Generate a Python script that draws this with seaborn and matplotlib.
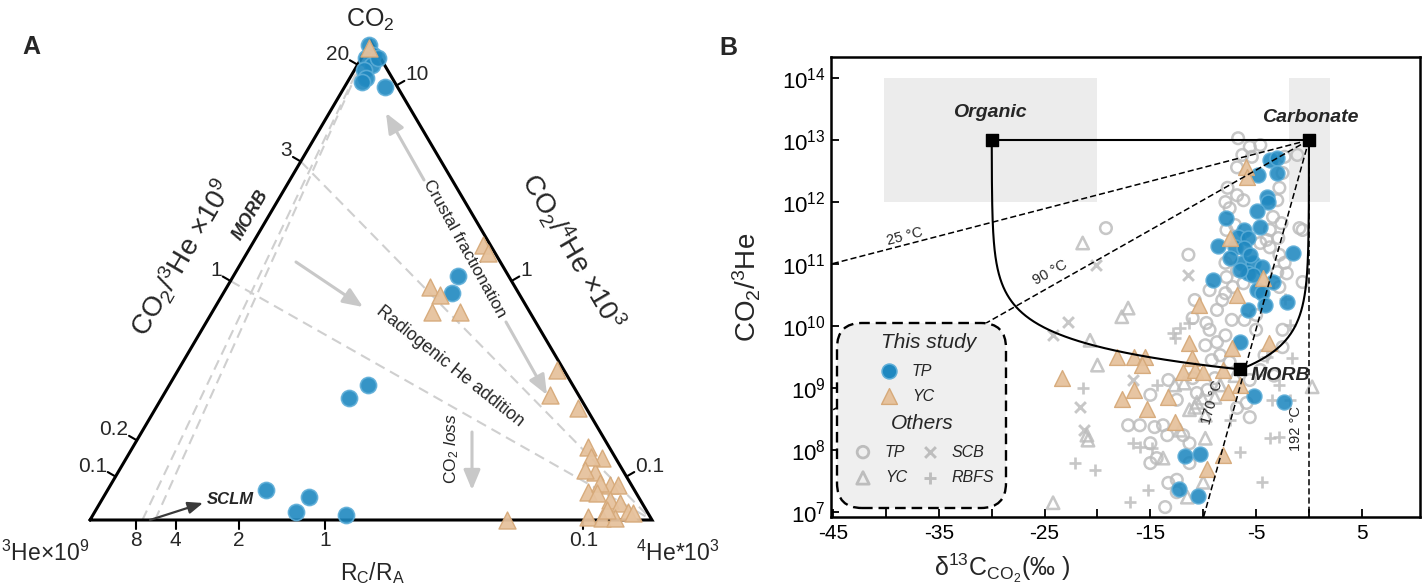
import numpy as np
import matplotlib
matplotlib.use("Agg")
import matplotlib.pyplot as plt
from matplotlib.patches import Rectangle, FancyBboxPatch
from matplotlib.ticker import NullLocator
import seaborn as sns

# ---------------- Painel A: ternário CO2 - 3He - 4He ----------------
# frações de CO2 e de 4He(x10^3) em cada amostra (3He x10^9 = resto)
a_tp_co2 = [0.994, 0.973, 0.967, 0.952, 0.941, 0.925, 0.916, 0.967, 0.906,
            0.510, 0.475, 0.282, 0.255, 0.063, 0.048, 0.017, 0.010]
a_tp_he4 = [0.000, 0.017, 0.008, 0.026, 0.017, 0.029, 0.026, 0.029, 0.072,
            0.400, 0.407, 0.354, 0.333, 0.282, 0.366, 0.358, 0.451]
a_yc_co2 = [0.987, 0.575, 0.559, 0.487, 0.471, 0.435, 0.435, 0.314, 0.262,
            0.234, 0.153, 0.130, 0.100, 0.073, 0.073, 0.059, 0.077, 0.042,
            0.036, 0.017, 0.006, 0.004, 0.004, 0.015, 0.021, 0.000, 0.056,
            0.132, 0.105]
a_yc_he4 = [0.003, 0.412, 0.429, 0.362, 0.387, 0.391, 0.441, 0.674, 0.688,
            0.751, 0.810, 0.846, 0.849, 0.889, 0.903, 0.857, 0.869, 0.904,
            0.925, 0.949, 0.883, 0.909, 0.932, 0.959, 0.909, 0.742, 0.874,
            0.825, 0.828]

left_ticks = [20, 3, 1, 0.2, 0.1]       # CO2/3He x10^9
right_ticks = [10, 1, 0.1]              # CO2/4He x10^3
bottom_ticks = [8, 4, 2, 1, 0.1]        # Rc/Ra
RA_X1E6 = 1.39                          # ar atmosférico, 3He/4He x10^6
radiogenic_start = [3, 1]               # linhas de adição de He radiogênico
morb_rcra = [7, 5.5]                    # linhas MORB

# ---------------- Painel B: d13C vs CO2/3He ----------------
tp_d13c = [-3.7, -3.0, -3.0, -4.8, -4.0, -3.9, -4.9, -7.8, -4.6, -6.1, -6.7,
           -5.8, -8.6, -7.0, -6.1, -1.5, -6.3, -5.3, -4.4, -5.8, -5.3, -9.1,
           -3.4, -4.9, -4.4, -2.1, -4.2, -5.8, -6.5, -5.2, -2.4, -11.7, -10.3,
           -12.3, -10.5, -7.5, -5.6, -6.5]
tp_log = [12.68, 12.71, 12.47, 12.44, 12.08, 12.00, 11.85, 11.74, 11.60, 11.55,
          11.44, 11.42, 11.29, 11.27, 11.26, 11.18, 11.02, 11.02, 10.95, 10.85,
          10.82, 10.74, 10.71, 10.58, 10.53, 10.39, 10.34, 10.26, 9.74, 8.87,
          8.77, 7.90, 7.94, 7.37, 7.26, 11.10, 11.15, 10.90]

yc_d13c = [-6.0, -5.9, -7.5, -4.3, -6.8, -10.4, -11.3, -7.3, -3.8, -18.2, -16.5,
           -15.5, -15.8, -11.1, -23.4, -11.9, -10.8, -10.0, -8.1, -16.5, -17.7,
           -13.3, -7.7, -6.5, -15.3, -12.7, -8.1, -9.6]
yc_log = [12.56, 12.40, 11.42, 10.77, 10.50, 10.34, 9.73, 9.65, 9.73, 9.50,
          9.50, 9.50, 9.37, 9.48, 9.16, 9.26, 9.29, 9.26, 9.29, 8.97, 8.82, 8.85,
          8.94, 9.05, 8.66, 8.45, 7.92, 7.69]

oth_tp_d13c = [-6.7, -5.6, -4.6, -6.3, -5.4, -2.3, -1.1, -6.8, -2.5, -7.7, -6.8,
               -6.2, -2.8, -7.9, -7.5, -3.0, -3.4, -2.6, -3.7, -0.9, -0.6, -7.0,
               -7.8, -11.4, -4.0, -2.9, -4.6, -3.7, -7.3, -7.9, -2.8, -2.3, -6.8,
               -7.8, -3.0, -2.1, -0.6, -7.2, -7.9, -8.7, -6.2, -2.8, -19.2, -11.0,
               -9.7, -8.7, -7.3, -2.5, -2.5, -13.3, -11.0, -15.0, -10.6, -12.5,
               -17.1, -16.0, -14.6, -13.8, -13.4, -11.9, -15.0, -11.3, -14.4,
               -15.0, -12.5, -13.3, -13.6, -5.9, -5.6, -6.8, -12.5, -11.3, -9.4,
               -8.4, -9.8, -7.9, -9.2, -7.5, -8.9, -9.6, -5.0, -4.2, -4.6, -3.3,
               -5.6, -6.1, -8.2, -5.0, -9.4, -10.8]
oth_tp_log = [13.03, 12.89, 12.92, 12.76, 12.73, 12.73, 12.76, 12.56, 12.47,
              12.23, 12.11, 12.03, 12.23, 12.00, 11.90, 12.03, 11.76, 11.66,
              11.55, 11.58, 11.55, 11.63, 11.55, 11.15, 11.39, 11.42, 11.34,
              11.27, 11.11, 11.02, 11.15, 11.02, 10.90, 10.79, 10.87, 10.85,
              10.71, 10.63, 10.53, 10.26, 10.69, 10.63, 11.58, 10.13, 10.05,
              9.74, 10.10, 9.94, 9.66, 9.13, 9.16, 8.89, 8.92, 8.81, 8.40, 8.40,
              8.37, 8.40, 8.24, 8.24, 8.11, 8.11, 7.87, 7.79, 7.52, 7.47, 7.08,
              8.76, 8.53, 8.68, 7.32, 7.79, 9.94, 9.53, 9.69, 9.85, 9.45, 9.42,
              9.16, 8.97, 9.94, 9.53, 9.29, 9.20, 9.13, 10.10, 10.42, 10.18,
              10.58, 10.42]

oth_yc_d13c = [-17.7, -17.1, -21.4, -20.7, -20.0, -21.0, -24.2, -10.1, -10.8,
               -8.9, -9.8, -13.8, -10.0, -11.5, -9.8, -12.7, -11.8, -10.6, 0.3,
               -20.9, -8.4, -7.0, -11.3, -12.2]
oth_yc_log = [10.15, 10.29, 11.34, 9.77, 9.37, 8.24, 7.15, 8.84, 8.69, 8.85,
              8.56, 7.87, 7.48, 7.24, 8.19, 9.05, 9.08, 8.77, 9.02, 8.16, 9.05,
              9.20, 8.65, 8.32]

oth_scb_d13c = [-20.1, -22.8, -24.2, -11.4, -16.6, -21.7, -21.3]
oth_scb_log = [10.98, 10.06, 9.85, 10.82, 9.13, 8.69, 8.32]

oth_rbfs_d13c = [-12.2, -11.3, -12.7, -21.4, -14.4, -16.0, -14.8, -22.1, -20.2,
                 -15.2, -16.9, -6.5, -4.4, -3.5, -3.7, -2.8, -2.8, -4.0, -1.8,
                 -1.6, -16.6, -12.9, -2.3, -7.5, -1.8]
oth_rbfs_log = [9.97, 10.05, 9.81, 9.00, 9.05, 8.05, 8.03, 7.79, 7.68, 7.35,
                7.16, 7.97, 7.48, 8.81, 8.19, 8.21, 9.05, 9.50, 10.02, 9.48,
                8.11, 9.89, 10.44, 8.48, 8.81]

# membros finais (d13C, CO2/3He)
end_names = ["Organic", "Carbonate", "MORB"]
end_d13c = [-30.0, 0.0, -6.5]
end_ratio = [1e13, 1e13, 2e9]

# linhas de fracionamento a partir do carbonato
frac_labels = ["25 °C", "90 °C", "170 °C", "192 °C"]
frac_end_d13c = [-45.2, -45.2, -10.0, 0.0]
frac_end_log = [11.0, 8.63, 6.9, 6.0]

BLUE, BLUE_EDGE = "#1f88c0", "#5eaed8"
TAN, TAN_EDGE = "#e6c29d", "#d6a979"
GRAY = "#bdbdbd"
ARROW = "#c8c8c8"
H = np.sqrt(3) / 2

sns.set_style("ticks")
plt.rcParams["font.family"] = ["Liberation Sans", "DejaVu Sans"]
plt.rcParams["mathtext.fontset"] = "custom"
plt.rcParams["mathtext.rm"] = "Liberation Sans"
plt.rcParams["mathtext.it"] = "Liberation Sans:italic"
plt.rcParams["mathtext.bf"] = "Liberation Sans:bold"
plt.rcParams["axes.unicode_minus"] = False


def tern_xy(co2, he4):
    co2 = np.asarray(co2, dtype=float)
    he4 = np.asarray(he4, dtype=float)
    return he4 + 0.5 * co2, H * co2


def pa(px, py):
    # posição em pixels da figura -> coordenadas do painel A
    return (px - 90) / 562, (520 - py) / 552


def edge_tick(ax, co2, he4, normal, text, ha, va, off):
    x0, y0 = tern_xy(co2, he4)
    x1 = x0 + normal[0] * 9 / 562
    y1 = y0 + normal[1] * 9 / 552
    ax.plot([x0, x1], [y0, y1], color="black", lw=1.5, zorder=3)
    ax.text(x1 + off[0] / 562, y1 + off[1] / 552, text, ha=ha, va=va,
            fontsize=15)


def painel_a(fig):
    ax = fig.add_axes([0, 0, 700 / 1422, 1])
    ax.set_xlim(-90 / 562, 610 / 562)
    ax.set_ylim(-67 / 552, 520 / 552)
    ax.axis("off")

    # triângulo
    tx, ty = tern_xy([0, 0, 1, 0], [0, 1, 0, 0])
    ax.plot(tx, ty, color="black", lw=2.2, zorder=3, solid_joinstyle="miter")

    # linhas tracejadas de mistura
    for v in radiogenic_start:
        fc = v / (1 + v)
        x, y = tern_xy([fc, 0], [0, 1])
        ax.plot(x, y, ls=(0, (5, 3)), color="#cfcfcf", lw=1.5, zorder=1)
    for r in morb_rcra:
        f4 = 1 / (1 + RA_X1E6 * r)
        x, y = tern_xy([0, 1], [f4, 0])
        ax.plot(x, y, ls=(0, (5, 3)), color="#cfcfcf", lw=1.5, zorder=1)

    # marcas dos eixos
    for v in left_ticks:
        fc = v / (1 + v)
        edge_tick(ax, fc, 0, (-0.866, 0.5), f"{v:g}", "right", "center", (-1, 6))
    for v in right_ticks:
        fc = v / (1 + v)
        edge_tick(ax, fc, 1 - fc, (0.866, 0.5), f"{v:g}", "left", "center", (1, 6))
    for r in bottom_ticks:
        f4 = 1 / (1 + RA_X1E6 * r)
        edge_tick(ax, 0, f4, (0, -1), f"{r:g}", "center", "top", (0, -2))

    # dados
    x, y = tern_xy(a_tp_co2, a_tp_he4)
    sns.scatterplot(x=x, y=y, ax=ax, marker="o", s=135, color=BLUE,
                    edgecolor=BLUE_EDGE, linewidth=1.2, alpha=0.9, zorder=5)
    x, y = tern_xy(a_yc_co2, a_yc_he4)
    sns.scatterplot(x=x, y=y, ax=ax, marker="^", s=150, color=TAN,
                    edgecolor=TAN_EDGE, linewidth=1.0, alpha=0.95, zorder=6)

    # setas
    big = dict(arrowstyle="-|>,head_length=0.6,head_width=0.25", color=ARROW,
               lw=2.2, mutation_scale=20, shrinkA=0, shrinkB=0)
    ax.annotate("", xy=pa(386, 113), xytext=pa(424, 180), arrowprops=big)
    ax.annotate("", xy=pa(547, 395), xytext=pa(506, 322), arrowprops=big)
    ax.annotate("", xy=pa(363, 307), xytext=pa(296, 262), arrowprops=big)
    ax.annotate("", xy=pa(472, 490), xytext=pa(472, 432), arrowprops=big)
    ax.annotate("", xy=pa(203, 503), xytext=pa(150, 520),
                arrowprops=dict(arrowstyle="-|>,head_length=0.5,head_width=0.2",
                                color="#3a3a3a", lw=1.6, mutation_scale=18,
                                shrinkA=0, shrinkB=0))

    # textos
    ax.text(*pa(31, 47), "A", fontsize=18, fontweight="bold", ha="center", va="center")
    ax.text(*pa(370, 20), "CO$_2$", fontsize=18, ha="center", va="center")
    ax.text(*pa(45, 553), "$^3$He×10$^9$", fontsize=16.5, ha="center", va="center")
    ax.text(*pa(678, 553), "$^4$He*10$^3$", fontsize=16.5, ha="center", va="center")
    ax.text(*pa(372, 573), "R$_\\mathrm{C}$/R$_\\mathrm{A}$", fontsize=16.5,
            ha="center", va="center")
    ax.text(*pa(182, 258), "CO$_2$/$^3$He ×10$^9$", fontsize=20, rotation=59.7,
            ha="center", va="center")
    ax.text(*pa(572, 252), "CO$_2$/$^4$He ×10$^3$", fontsize=20, rotation=-59.7,
            ha="center", va="center")
    ax.text(*pa(251, 215), "MORB", fontsize=13, fontweight="bold", style="italic",
            rotation=59.7, ha="center", va="center")
    ax.text(*pa(230, 500), "SCLM", fontsize=12, fontweight="bold", style="italic",
            ha="center", va="center")
    ax.text(*pa(465, 249), "Crustal fractionation", fontsize=12.5, rotation=-61,
            ha="center", va="center")
    ax.text(*pa(450, 366), "Radiogenic He addition", fontsize=12.8, rotation=-38.5,
            ha="center", va="center")
    ax.text(*pa(452, 449), "CO$_2$ $loss$", fontsize=12.5, rotation=90,
            ha="center", va="center")


def mixing(i, j):
    # curva de mistura binária entre dois membros finais
    r = np.logspace(np.log10(end_ratio[i]), np.log10(end_ratio[j]), 400)
    f = (end_ratio[i] - r) / (end_ratio[i] - end_ratio[j])
    d = ((1 - f) * end_ratio[i] * end_d13c[i] + f * end_ratio[j] * end_d13c[j]) / r
    return d, r


def painel_b(fig):
    ax = fig.add_axes([831 / 1422, 70 / 587, 589 / 1422, 460 / 587])
    ax.set_yscale("log")

    # caixas dos membros finais
    ax.add_patch(Rectangle((-40.2, 1e12), 20.2, 1e14 - 1e12, fc="#ececec",
                           ec="none", zorder=0))
    ax.add_patch(Rectangle((-1.9, 1e12), 3.9, 1e14 - 1e12, fc="#ececec",
                           ec="none", zorder=0))

    # outros estudos
    sns.scatterplot(x=oth_tp_d13c, y=10 ** np.array(oth_tp_log), ax=ax, marker="o",
                    s=70, color=GRAY, facecolor="none", edgecolor=GRAY,
                    linewidth=1.8, alpha=0.85, zorder=2)
    sns.scatterplot(x=oth_yc_d13c, y=10 ** np.array(oth_yc_log), ax=ax, marker="^",
                    s=80, color=GRAY, facecolor="none", edgecolor=GRAY,
                    linewidth=1.8, alpha=0.85, zorder=2)
    sns.scatterplot(x=oth_scb_d13c, y=10 ** np.array(oth_scb_log), ax=ax, marker="x",
                    s=60, color=GRAY, linewidth=2.1, alpha=0.85, zorder=2)
    sns.scatterplot(x=oth_rbfs_d13c, y=10 ** np.array(oth_rbfs_log), ax=ax,
                    marker="+", s=80, color=GRAY, linewidth=1.9, alpha=0.85,
                    zorder=2)

    # este estudo
    sns.scatterplot(x=tp_d13c, y=10 ** np.array(tp_log), ax=ax, marker="o", s=115,
                    color=BLUE, edgecolor=BLUE_EDGE, linewidth=1.1, alpha=0.88,
                    zorder=3)
    sns.scatterplot(x=yc_d13c, y=10 ** np.array(yc_log), ax=ax, marker="^", s=130,
                    color=TAN, edgecolor=TAN_EDGE, linewidth=1.0, alpha=0.95,
                    zorder=3.5)

    # linhas de fracionamento
    for xe, ye in zip(frac_end_d13c, frac_end_log):
        ax.plot([end_d13c[1], xe], [end_ratio[1], 10 ** ye], color="black",
                lw=1.1, ls=(0, (4, 2)), zorder=4)

    # mistura e membros finais
    ax.plot([end_d13c[0], end_d13c[1]], [end_ratio[0], end_ratio[1]],
            color="black", lw=1.5, zorder=4)
    for i in (0, 1):
        d, r = mixing(i, 2)
        ax.plot(d, r, color="black", lw=1.5, zorder=4)
    ax.scatter(end_d13c, end_ratio, marker="s", s=75, color="black", zorder=5)

    ax.text(-30.2, 10 ** 13.45, "Organic", fontsize=14, fontweight="bold",
            style="italic", ha="center", va="center")
    ax.text(0.1, 10 ** 13.37, "Carbonate", fontsize=14, fontweight="bold",
            style="italic", ha="center", va="center")
    ax.text(-5.5, 10 ** 9.2, "MORB", fontsize=14, fontweight="bold",
            style="italic", ha="left", va="center")
    ax.text(-38.2, 10 ** 11.45, frac_labels[0], fontsize=10.5, rotation=14.5,
            ha="center", va="center")
    ax.text(-24.5, 10 ** 10.87, frac_labels[1], fontsize=10.5, rotation=29,
            ha="center", va="center")
    ax.text(-9.1, 10 ** 8.77, frac_labels[2], fontsize=10.5, rotation=74,
            ha="center", va="center")
    ax.text(-1.2, 10 ** 8.35, frac_labels[3], fontsize=10.5, rotation=90,
            ha="center", va="center")

    # legenda manual
    box = FancyBboxPatch((8.37, 0.79), 1.69, 1.85,
                         boxstyle="round,pad=0,rounding_size=0.25",
                         transform=fig.dpi_scale_trans, fc="#efefef", ec="black",
                         lw=1.7, ls=(0, (4.5, 2.5)), zorder=6, clip_on=False)
    ax.add_patch(box)
    t = ax.transAxes
    ax.text(0.165, 0.380, "This study", transform=t, fontsize=15, style="italic",
            ha="center", va="center", zorder=7)
    ax.text(0.1545, 0.204, "Others", transform=t, fontsize=15, style="italic",
            ha="center", va="center", zorder=7)
    ax.scatter([0.0985], [0.317], transform=t, marker="o", s=115, color=BLUE,
               edgecolor=BLUE_EDGE, linewidth=1.1, zorder=7, clip_on=False)
    ax.scatter([0.0985], [0.263], transform=t, marker="^", s=130, color=TAN,
               edgecolor=TAN_EDGE, linewidth=1.0, zorder=7, clip_on=False)
    ax.scatter([0.0543], [0.141], transform=t, marker="o", s=70, facecolor="none",
               edgecolor=GRAY, linewidth=2.0, zorder=7, clip_on=False)
    ax.scatter([0.0543], [0.085], transform=t, marker="^", s=80, facecolor="none",
               edgecolor=GRAY, linewidth=2.0, zorder=7, clip_on=False)
    ax.scatter([0.168], [0.141], transform=t, marker="x", s=60, color=GRAY,
               linewidth=2.1, zorder=7, clip_on=False)
    ax.scatter([0.168], [0.085], transform=t, marker="+", s=80, color=GRAY,
               linewidth=2.1, zorder=7, clip_on=False)
    for xx, yy, lab in [(0.136, 0.317, "TP"), (0.1375, 0.263, "YC"),
                        (0.0917, 0.141, "TP"), (0.0917, 0.085, "YC"),
                        (0.2054, 0.141, "SCB"), (0.2054, 0.085, "RBFS")]:
        ax.text(xx, yy, lab, transform=t, fontsize=11.5, style="italic",
                ha="left", va="center", zorder=7)

    # eixos
    ax.set_xlim(-45.2, 10.5)
    ax.set_ylim(10 ** 6.92, 10 ** 14.34)
    xt = np.arange(-45, 10, 5)
    ax.set_xticks(xt)
    ax.set_xticklabels([str(v) if (v + 45) % 10 == 0 else "" for v in xt])
    ax.set_yticks([10.0 ** k for k in range(7, 15)])
    ax.yaxis.set_minor_locator(NullLocator())
    ax.tick_params(which="both", direction="in", length=6, width=1.3,
                   top=False, right=False, colors="black")
    ax.tick_params(axis="x", labelsize=15, pad=5)
    ax.tick_params(axis="y", labelsize=16, pad=4)
    for sp in ax.spines.values():
        sp.set_linewidth(1.8)
        sp.set_color("black")
    ax.set_ylabel("CO$_2$/$^3$He", fontsize=20)
    ax.yaxis.set_label_coords(-0.115, 0.5)
    ax.set_xlabel("δ$^{13}$C$_{\\mathrm{CO_2}}$(‰ )", fontsize=18)
    ax.xaxis.set_label_coords(0.29, -0.075)
    ax.text(-0.175, 1.02, "B", transform=t, fontsize=18, fontweight="bold",
            ha="center", va="center")


fig = plt.figure(figsize=(14.22, 5.87), dpi=100)
painel_a(fig)
painel_b(fig)
fig.savefig("out.png", dpi=100)
